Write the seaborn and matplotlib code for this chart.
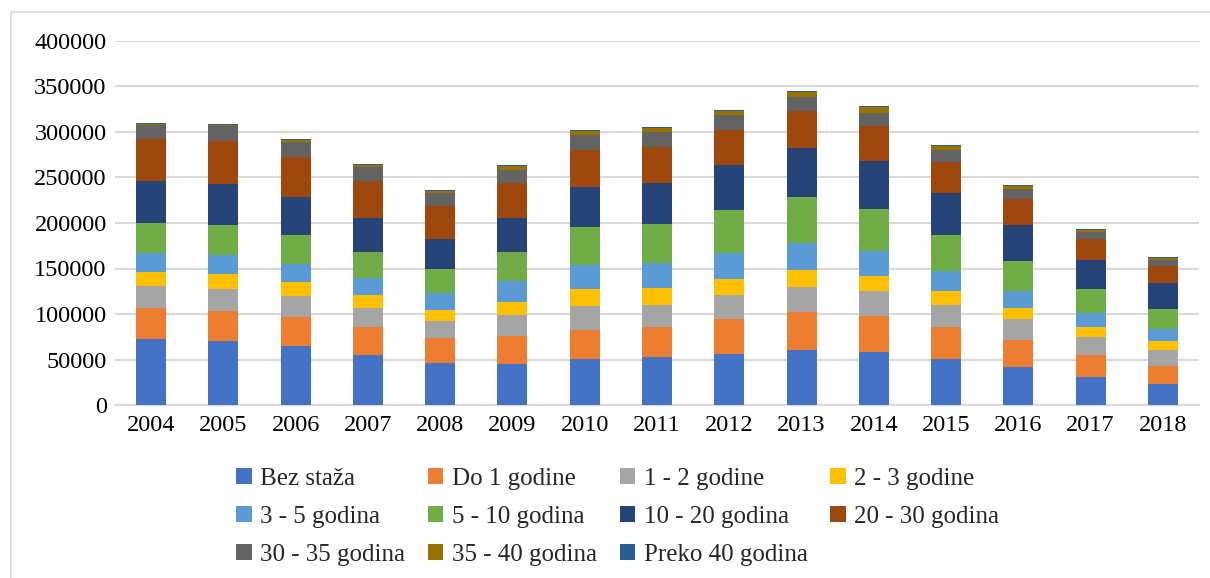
import matplotlib
matplotlib.use("Agg")
import matplotlib.pyplot as plt
import seaborn as sns
import numpy as np
import pandas as pd
from matplotlib.patches import Patch, Rectangle

years = ["2004", "2005", "2006", "2007", "2008", "2009", "2010", "2011",
         "2012", "2013", "2014", "2015", "2016", "2017", "2018"]

categories = ["Bez staža", "Do 1 godine", "1 - 2 godine", "2 - 3 godine",
              "3 - 5 godina", "5 - 10 godina", "10 - 20 godina", "20 - 30 godina",
              "30 - 35 godina", "35 - 40 godina", "Preko 40 godina"]

bez_staza = [72900, 70700, 64800, 55300, 46500, 45100, 50900, 53100, 56000, 60400, 58200, 50900, 42100, 31100, 23100]
do_1 = [33700, 33000, 32300, 30800, 27100, 30700, 31500, 33000, 38900, 41800, 39600, 35200, 29300, 24200, 19800]
g1_2 = [24200, 24100, 22700, 20500, 19100, 23500, 26400, 24200, 26300, 27800, 27800, 24200, 23500, 19800, 17500]
g2_3 = [15400, 16200, 15400, 14600, 11700, 13900, 19000, 18300, 17600, 18400, 16200, 15300, 11700, 11000, 10300]
g3_5 = [21200, 21200, 19700, 18400, 19000, 23400, 26400, 27800, 28600, 30000, 27800, 22000, 19000, 15400, 13200]
g5_10 = [32600, 32600, 31900, 28500, 26100, 31500, 41800, 42500, 46900, 50500, 46100, 39600, 33000, 26300, 22000]
g10_20 = [46200, 45100, 42100, 37400, 33300, 37400, 43900, 45400, 49800, 53500, 52800, 46100, 39600, 31500, 28500]
g20_30 = [46500, 47600, 44000, 41000, 35900, 38800, 40300, 39600, 38100, 41000, 38100, 33700, 28500, 23500, 18300]
g30_35 = [15400, 16100, 16100, 15400, 14600, 13900, 16900, 16100, 16900, 15400, 14600, 13200, 11000, 7300, 6600]
g35_40 = [1100, 1500, 2200, 1800, 1900, 4100, 4000, 4400, 4000, 5200, 6600, 4400, 2600, 2200, 2200]
preko_40 = [700, 1100, 1100, 1100, 1100, 1400, 1100, 1100, 1100, 1100, 1100, 1100, 1500, 1100, 1100]

series = [bez_staza, do_1, g1_2, g2_3, g3_5, g5_10, g10_20, g20_30, g30_35, g35_40, preko_40]
colors = ["#4472C4", "#ED7D31", "#A5A5A5", "#FFC000", "#5B9BD5", "#70AD47",
          "#264478", "#9E480E", "#636363", "#997300", "#255E91"]

sns.set_theme(style="white")
plt.rcParams["font.family"] = ["Liberation Serif", "DejaVu Serif"]
FS = 17.5
LFS = 18

fig = plt.figure(figsize=(12.1, 5.78), dpi=100)
ax = fig.add_axes([115 / 1210, 1 - 405 / 578, (1199 - 115) / 1210, (405 - 41) / 578])

cum = np.cumsum(np.array(series, dtype=float), axis=0)
# draw from the top series down so lower segments overlay
for i in range(len(series) - 1, -1, -1):
    df = pd.DataFrame({"year": years, "value": cum[i]})
    sns.barplot(data=df, x="year", y="value", color=colors[i], saturation=1,
                width=0.415, errorbar=None, ax=ax, linewidth=0, zorder=3)

ax.set_xlim(-0.5, len(years) - 0.5)
ax.set_ylim(0, 400000)
ax.set_yticks(np.arange(0, 400001, 50000))
ax.set_yticklabels([str(v) for v in range(0, 400001, 50000)])
ax.yaxis.grid(True, color="#d9d9d9", linewidth=1.5, zorder=0)
ax.set_axisbelow(True)
ax.set_xlabel("")
ax.set_ylabel("")
for s in ["top", "right", "left"]:
    ax.spines[s].set_visible(False)
ax.spines["bottom"].set_color("#d9d9d9")
ax.spines["bottom"].set_linewidth(1.5)
ax.tick_params(axis="both", length=0, labelsize=FS, colors="black")
ax.tick_params(axis="y", pad=6)
ax.tick_params(axis="x", pad=7)

# legend filled row by row (matplotlib fills column-wise)
ncol = 4
n = len(categories)
order = [r * ncol + c for c in range(ncol) for r in range(3) if r * ncol + c < n]
handles = [Patch(facecolor=colors[k], edgecolor="none") for k in order]
labels = [categories[k] for k in order]
fig.legend(handles, labels, ncol=ncol, loc="upper left",
           bbox_to_anchor=(236 / 1210, 1 - 468 / 578), frameon=False,
           fontsize=LFS, handlelength=0.62, handleheight=0.62, handletextpad=0.35,
           columnspacing=0.9, labelspacing=0.63, borderpad=0, borderaxespad=0)

# outer chart frame
fig.patches.append(Rectangle((11 / 1210, -0.05), 1.1, (578 - 12) / 578 + 0.05,
                             transform=fig.transFigure, fill=False,
                             edgecolor="#d9d9d9", linewidth=1.2))

fig.savefig("out.png", dpi=100)
